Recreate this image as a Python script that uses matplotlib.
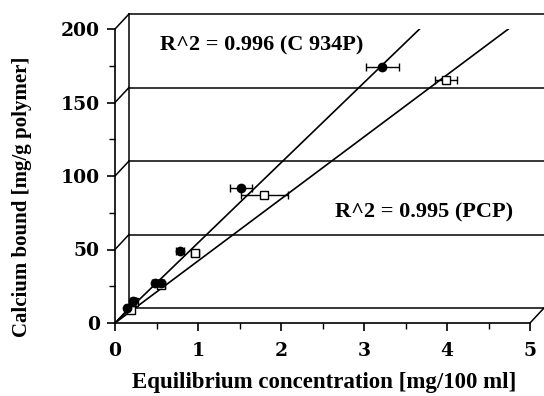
import numpy as np
import matplotlib.pyplot as plt
from matplotlib.ticker import MultipleLocator

plt.rcParams['font.family'] = ['Liberation Serif', 'DejaVu Serif']
plt.rcParams['font.weight'] = 'bold'

# C 934P (filled circles)
c934p_x = [0.14, 0.22, 0.48, 0.55, 0.78, 1.52, 3.22]
c934p_y = [10, 15, 27, 27, 49, 92, 174]
c934p_xerr = [0.02, 0.03, 0.04, 0.04, 0.05, 0.13, 0.20]
c934p_slope, c934p_icpt = 54.5, 0.0

# PCP (open squares)
pcp_x = [0.19, 0.23, 0.56, 0.96, 1.80, 3.99]
pcp_y = [9, 14, 26, 47.5, 87, 165]
pcp_xerr = [0.02, 0.03, 0.04, 0.05, 0.28, 0.13]
pcp_slope, pcp_icpt = 42.2, 0.0

x_ticks = [0, 1, 2, 3, 4, 5]
y_ticks = [0, 50, 100, 150, 200]

fig = plt.figure(figsize=(5.44, 3.96), dpi=100)
ax = fig.add_axes([115/544, 73/396, 415/544, 294/396])
ax.set_xlim(0, 5)
ax.set_ylim(0, 200)

# pseudo-3D depth of the back wall (data units)
dx, dy = 14/83, 15/1.47
kw = dict(color='black', lw=1.1, clip_on=False, zorder=1)
for y in y_ticks:
    ax.plot([dx, 5 + dx], [y + dy, y + dy], **kw)
    ax.plot([0, dx], [y, y + dy], **kw)
ax.plot([dx, dx], [dy, 200 + dy], **kw)
ax.plot([5, 5 + dx], [0, dy], **kw)

# fit lines
for s, b in [(c934p_slope, c934p_icpt), (pcp_slope, pcp_icpt)]:
    xs = np.array([0, (200 - b) / s])
    ax.plot(xs, s * xs + b, color='black', lw=1.2, zorder=3)

ax.errorbar(c934p_x, c934p_y, xerr=c934p_xerr, fmt='o', color='black', ms=6,
            capsize=3, elinewidth=1, capthick=1, zorder=5)
ax.errorbar(pcp_x, pcp_y, xerr=pcp_xerr, fmt='s', color='black', mfc='white',
            ms=6, capsize=3, elinewidth=1, capthick=1, zorder=4)

ax.text(0.54, 189, 'R^2 = 0.996 (C 934P)', fontsize=16, fontweight='bold', va='center')
ax.text(2.65, 75, 'R^2 = 0.995 (PCP)', fontsize=16, fontweight='bold', va='center')

ax.spines['top'].set_visible(False)
ax.spines['right'].set_visible(False)
ax.spines['left'].set_linewidth(1.2)
ax.spines['bottom'].set_linewidth(1.2)
ax.patch.set_alpha(0)
ax.set_xticks(x_ticks)
ax.set_yticks(y_ticks)
ax.xaxis.set_minor_locator(MultipleLocator(0.5))
ax.yaxis.set_minor_locator(MultipleLocator(25))
ax.tick_params(which='major', length=6, width=1.2, pad=8)
ax.tick_params(axis='y', which='major', pad=5)
ax.tick_params(which='minor', length=4, width=1.0)
for lab in ax.get_xticklabels() + ax.get_yticklabels():
    lab.set_family('DejaVu Serif')
    lab.set_fontsize(13.5)
    lab.set_fontweight('bold')
ax.set_xlabel('Equilibrium concentration [mg/100 ml]', fontsize=16.5, fontweight='bold')
ax.set_ylabel('Calcium bound [mg/g polymer]', fontsize=15, fontweight='bold')
ax.xaxis.set_label_coords(0.505, -0.165)
ax.yaxis.set_label_coords(-0.2, 0.43)

plt.savefig('out.png', dpi=100)
